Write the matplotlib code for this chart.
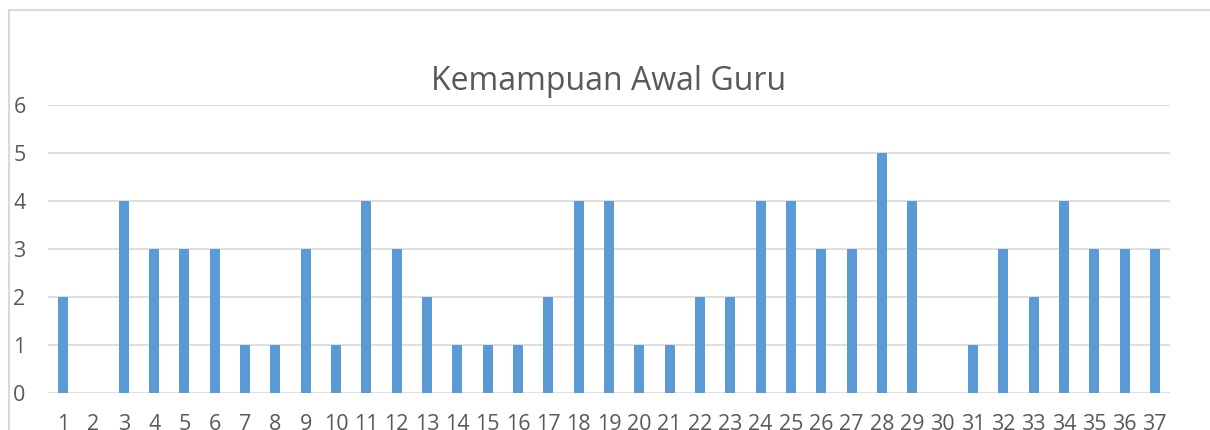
import matplotlib
matplotlib.use("Agg")
import matplotlib.pyplot as plt
from matplotlib.patches import Rectangle

# data
guru = list(range(1, 38))
skor = [2, 0, 4, 3, 3, 3, 1, 1, 3, 1, 4, 3, 2, 1, 1, 1, 2, 4, 4, 1,
        1, 2, 2, 4, 4, 3, 3, 5, 4, 0, 1, 3, 2, 4, 3, 3, 3]
y_ticks = [0, 1, 2, 3, 4, 5, 6]

plt.rcParams['font.family'] = ['Open Sans', 'DejaVu Sans']

fig = plt.figure(figsize=(12.1, 4.3), dpi=100)
ax = fig.add_axes([48 / 1210, 1 - 393 / 430, (1170 - 48) / 1210, (393 - 105) / 430])

# chart frame (light grey, runs off the right and bottom)
fig.patches.append(Rectangle((9 / 1210, -0.1), 1.2, (430 - 10) / 430 + 0.1,
                             transform=fig.transFigure, fill=False,
                             edgecolor='#D9D9D9', linewidth=1.5))

ax.bar(guru, skor, width=0.33, color='#5B9BD5', zorder=3)

ax.set_xlim(0.5, 37.5)
ax.set_ylim(0, 6)
ax.set_yticks(y_ticks)
ax.set_xticks(guru)
ax.grid(axis='y', color='#D9D9D9', linewidth=1.2, zorder=0)
for s in ax.spines.values():
    s.set_visible(False)
ax.tick_params(length=0, labelsize=15.5, colors='#595959')
ax.tick_params(axis='x', pad=15)
ax.tick_params(axis='y', pad=25)
for lab in ax.get_yticklabels():
    lab.set_horizontalalignment('left')

ax.set_title('Kemampuan Awal Guru', fontsize=23, color='#595959', pad=11)

fig.savefig('out.png', dpi=100)
